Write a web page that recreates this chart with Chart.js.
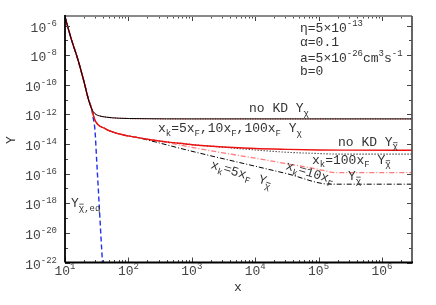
<!DOCTYPE html>
<html><head><meta charset="utf-8">
<script src="https://cdn.jsdelivr.net/npm/chart.js@4/dist/chart.umd.min.js"></script>
<style>html,body{margin:0;padding:0;background:#fff}#wrap{width:436px;height:305px}</style>
</head><body><div id="wrap"><canvas id="c" width="436" height="305"></canvas></div>
<script>
// ---- tick labels (exponents of 10) ----
const xTickExps = [1, 2, 3, 4, 5, 6];
const yTickExps = [-22, -20, -18, -16, -14, -12, -10, -8, -6];
const yMinorExps = [-21, -19, -17, -15, -13, -11, -9, -7];

// ---- shared freeze-out part (before the curves split) ----
const xEarly = [10, 12.6, 15.8, 20, 23.3, 26.3];
const yEarly = [3.98e-6, 1.17e-7, 6.0e-9, 1.55e-10, 1.15e-11, 2.4e-12];

// ---- Y_chi (no KD and all x_k) ----
const xChi = [29.8, 35.5, 44.7, 69, 158, 1000, 3e6];
const yChi = [1.12e-12, 7.9e-13, 6.6e-13, 5.6e-13, 5.2e-13, 5.0e-13, 5.0e-13];

// ---- Y_chibar, no KD ----
const xBarNoKD = [29.8, 42.9, 69.5, 128, 234, 427, 794, 1122, 3162, 1e4, 3.16e4, 1e5, 3.16e5, 3e6];
const yBarNoKD = [4.0e-13, 1.1e-13, 5.0e-14, 2.95e-14, 1.9e-14, 1.35e-14, 1.02e-14, 8.7e-15, 6.3e-15, 5.0e-15, 4.4e-15, 4.0e-15, 3.9e-15, 3.8e-15];

// ---- Y_chibar, x_k = 100 x_F ----
const xBar100 = [29.8, 42.9, 69.5, 128, 234, 427, 794, 1122, 2700, 1e4, 3.16e4, 1e5, 2e5, 3e6];
const yBar100 = [4.0e-13, 1.1e-13, 5.0e-14, 2.95e-14, 1.9e-14, 1.35e-14, 1.02e-14, 8.7e-15, 6.5e-15, 4.0e-15, 2.8e-15, 2.3e-15, 2.1e-15, 2.1e-15];

// ---- Y_chibar, x_k = 10 x_F ----
const xBar10 = [29.8, 42.9, 69.5, 128, 269, 944, 3162, 1e4, 2.75e4, 9.3e4, 1.95e5, 3e6];
const yBar10 = [4.0e-13, 1.1e-13, 5.0e-14, 2.95e-14, 1.78e-14, 6.3e-15, 2.5e-15, 1.12e-15, 5.2e-16, 2.1e-16, 1.17e-16, 1.17e-16];

// ---- Y_chibar, x_k = 5 x_F ----
const xBar5 = [29.8, 42.9, 69.5, 135, 1122, 1e4, 3.16e4, 1.55e5, 3e6];
const yBar5 = [4.0e-13, 1.1e-13, 5.0e-14, 2.8e-14, 2.9e-15, 3.2e-16, 1.0e-16, 1.95e-17, 1.95e-17];

// ---- Y_chibar,eq ----
const xEq = [10, 12.6, 15.8, 20, 23.3, 26.3, 27.9, 29.7, 31.6, 33.9, 36.3, 39.1, 39.8];
const yEq = [3.98e-6, 1.17e-7, 6.0e-9, 1.55e-10, 1.15e-11, 2.4e-12, 5.6e-13, 8.9e-14, 7.9e-16, 4.0e-18, 2.0e-20, 8.0e-23, 2.0e-23];

function pts(xs, ys) { return xs.map((x, i) => ({ x: x, y: ys[i] })); }
function withEarly(xs, ys) { return pts(xEarly.concat(xs), yEarly.concat(ys)); }

const FONT = "'Liberation Mono', 'DejaVu Sans Mono', monospace";

function parseRich(s, mode) {
  const out = []; let i = 0, buf = '';
  const flush = () => { if (buf) { out.push({ t: buf, mode: mode, bar: false }); buf = ''; } };
  while (i < s.length) {
    const c = s[i];
    if ((c === '_' || c === '^') && s[i + 1] === '{') {
      flush();
      let depth = 0, j = i + 1;
      for (; j < s.length; j++) { if (s[j] === '{') depth++; else if (s[j] === '}') { depth--; if (depth === 0) break; } }
      out.push(...parseRich(s.slice(i + 2, j), c === '_' ? 'sub' : 'sup'));
      i = j + 1;
    } else if (c === '~') {
      flush(); out.push({ t: s[i + 1], mode: mode, bar: true }); i += 2;
    } else { buf += c; i++; }
  }
  flush();
  return out;
}

function drawRich(ctx, s, x, y, size, align, color) {
  const segs = parseRich(s, 'n');
  const small = Math.round(size * 0.7);
  let w = 0;
  for (const g of segs) {
    ctx.font = (g.mode === 'n' ? size : small) + 'px ' + FONT;
    g.w = ctx.measureText(g.t).width; w += g.w;
  }
  let cx = align === 'right' ? x - w : align === 'center' ? x - w / 2 : x;
  ctx.fillStyle = color; ctx.strokeStyle = color;
  ctx.textBaseline = 'alphabetic'; ctx.textAlign = 'left';
  for (const g of segs) {
    const fs = g.mode === 'n' ? size : small;
    ctx.font = fs + 'px ' + FONT;
    const dy = g.mode === 'sub' ? size * 0.28 : g.mode === 'sup' ? -size * 0.45 : 0;
    ctx.fillText(g.t, cx, y + dy);
    if (g.bar) {
      ctx.lineWidth = 0.8; ctx.setLineDash([]);
      ctx.beginPath();
      ctx.moveTo(cx + 0.5, y + dy - fs * 0.72);
      ctx.lineTo(cx + g.w - 0.5, y + dy - fs * 0.72);
      ctx.stroke();
    }
    cx += g.w;
  }
  return w;
}

// text annotations: [text, x, y, angle(deg)]
const notes = [
  ['η=5×10^{-13}', 300, 32, 0],
  ['α=0.1', 300, 46, 0],
  ['a=5×10^{-26}cm^{3}s^{-1}', 300, 61.5, 0],
  ['b=0', 300, 75, 0],
  ['no KD Y_{χ}', 249, 112, 0],
  ['x_{k}=5x_{F},10x_{F},100x_{F} Y_{χ}', 158, 132, 0],
  ['no KD Y_{~χ}', 338, 145.5, 0],
  ['x_{k}=100x_{F} Y_{~χ}', 312, 163.5, 0],
  ['x_{k}=10x_{F}', 285, 169, 17],
  ['Y_{~χ}', 348, 180, 0],
  ['x_{k}=5x_{F} Y_{~χ}', 210, 168, 17],
  ['Y_{~χ,eq}', 71, 207, 0]
];

const framePlugin = {
  id: 'frame',
  afterDraw(chart) {
    const ctx = chart.ctx, a = chart.chartArea;
    const xs = chart.scales.x, ys = chart.scales.y;
    ctx.save();
    ctx.setLineDash([]);
    // ticks
    ctx.strokeStyle = '#444'; ctx.lineWidth = 1;
    const tick = (x1, y1, x2, y2) => { ctx.beginPath(); ctx.moveTo(x1, y1); ctx.lineTo(x2, y2); ctx.stroke(); };
    for (const e of yTickExps.concat(yMinorExps)) {
      const py = Math.round(ys.getPixelForValue(Math.pow(10, e))) + 0.5;
      const L = yTickExps.includes(e) ? 5 : 3;
      tick(a.left, py, a.left + L, py);
      tick(a.right, py, a.right - L, py);
    }
    for (let d = 1; d <= 6; d++) {
      for (let m = 1; m <= 9; m++) {
        const v = m * Math.pow(10, d);
        if (v > xs.max) break;
        const px = Math.round(xs.getPixelForValue(v)) + 0.5;
        const L = m === 1 ? 5 : 2.5;
        tick(px, a.bottom, px, a.bottom - L);
        tick(px, a.top, px, a.top + L);
      }
    }
    // frame
    ctx.lineWidth = 1.8; ctx.strokeStyle = '#8a8a8a';
    tick(a.left, a.top, a.right, a.top);
    ctx.strokeStyle = '#555';
    tick(a.right, a.top, a.right, a.bottom);
    ctx.strokeStyle = '#000';
    tick(a.left, a.top - 1, a.left, a.bottom);
    tick(a.left, a.bottom, a.right + 1, a.bottom);
    // tick labels
    for (const e of yTickExps) {
      const py = ys.getPixelForValue(Math.pow(10, e));
      drawRich(ctx, '10^{' + e + '}', 57, py + 6, 13, 'right', '#444');
    }
    for (const e of xTickExps) {
      const px = xs.getPixelForValue(Math.pow(10, e));
      drawRich(ctx, '10^{' + e + '}', px, 274.5, 13, 'center', '#444');
    }
    // axis titles
    drawRich(ctx, 'x', 238, 291, 13, 'center', '#333');
    ctx.save(); ctx.translate(15, 140); ctx.rotate(-Math.PI / 2);
    drawRich(ctx, 'Y', 0, 0, 13, 'center', '#333');
    ctx.restore();
    // annotations
    for (const [t, x, y, ang] of notes) {
      ctx.save(); ctx.translate(x, y); ctx.rotate(ang * Math.PI / 180);
      drawRich(ctx, t, 0, 0, 13, 'left', '#333');
      ctx.restore();
    }
    ctx.restore();
  }
};

const common = { pointRadius: 0, fill: false, cubicInterpolationMode: 'monotone' };

new Chart(document.getElementById('c'), {
  type: 'line',
  data: {
    datasets: [
      Object.assign({ data: withEarly(xChi, yChi), borderColor: '#000', borderWidth: 1 }, common),
      Object.assign({ data: withEarly(xChi, yChi), borderColor: '#ff3030', borderWidth: 1.2, borderDash: [1, 1.5] }, common),
      Object.assign({ data: withEarly(xBarNoKD, yBarNoKD), borderColor: '#ee1111', borderWidth: 1.4 }, common),
      Object.assign({ data: withEarly(xBar10, yBar10), borderColor: '#ff7a7a', borderWidth: 1.3, borderDash: [5, 2, 1, 2] }, common),
      Object.assign({ data: withEarly(xBar100, yBar100), borderColor: '#000', borderWidth: 1.1, borderDash: [1, 2] }, common),
      Object.assign({ data: withEarly(xBar5, yBar5), borderColor: '#000', borderWidth: 1, borderDash: [5, 2, 1, 2] }, common),
      Object.assign({ data: pts(xEq, yEq), borderColor: '#2030ee', borderWidth: 1.4, borderDash: [5, 3] }, common)
    ]
  },
  options: {
    responsive: false, animation: false, devicePixelRatio: 1,
    layout: { padding: { left: 65, top: 16, right: 24, bottom: 42.5 } },
    plugins: { legend: { display: false }, tooltip: { enabled: false } },
    scales: {
      x: { type: 'logarithmic', min: 10, max: 2.98e6, display: false },
      y: { type: 'logarithmic', min: 1e-22, max: 4.47e-6, display: false }
    }
  },
  plugins: [framePlugin]
});
</script>
</body></html>
